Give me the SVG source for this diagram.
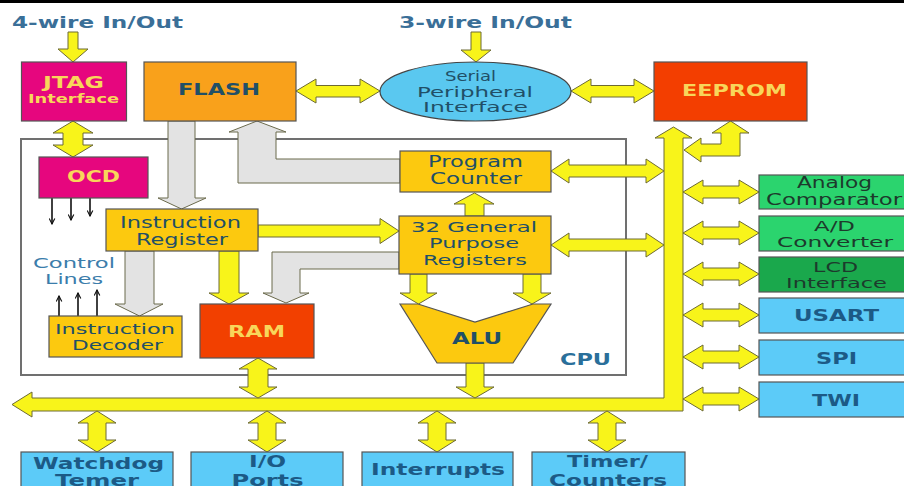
<svg xmlns="http://www.w3.org/2000/svg" width="904" height="486" viewBox="0 0 904 486">
<style>
text{font-family:"DejaVu Sans","Liberation Sans",sans-serif;text-anchor:middle}
.b{font-weight:bold}
.t14{font-size:14px}
.t15{font-size:15px}
.t16{font-size:16px}
.dk{fill:#214f67}
.yl{fill:#f8d65a}
.bl{fill:#1c5a86}
.gt{fill:#1d3a2c}
.box{stroke:#555;stroke-width:1.2}
.ya{fill:#f8f41a;stroke:#6d6a35;stroke-width:1}
.ga{fill:#e3e3e3;stroke:#6b6a4c;stroke-width:1}
.ln{stroke:#111;stroke-width:1.6;fill:none}
.gold{fill:#fcc90f}
.cyan{fill:#5ccbf8}
</style>
<defs>
<marker id="ah" viewBox="0 0 10 10" refX="9" refY="5" markerWidth="7" markerHeight="7" orient="auto-start-reverse" markerUnits="userSpaceOnUse">
<path d="M1,1 L9,5 L1,9" fill="none" stroke="#111" stroke-width="1.6"/>
</marker>
</defs>
<rect x="0" y="0" width="904" height="486" fill="#fff"/>
<rect x="0" y="0" width="904" height="3" fill="#000"/>

<g id="cpu-frame">
<rect x="21" y="139" width="605" height="236" fill="none" stroke="#707070" stroke-width="2"/>
<text x="585.5" y="365" class="b t16" fill="#2a6f9a" textLength="51" lengthAdjust="spacingAndGlyphs">CPU</text>
</g>

<g id="labels">
<text x="97.5" y="28" class="b t16" fill="#3a6f98" textLength="171" lengthAdjust="spacingAndGlyphs">4-wire In/Out</text>
<text x="485.5" y="28" class="b t16" fill="#3a6f98" textLength="173" lengthAdjust="spacingAndGlyphs">3-wire In/Out</text>
</g>

<g id="connectors">
<polygon class="ya" points="68,32 78,32 78,49 88,49 73,62 58,49 68,49"/>
<polygon class="ya" points="471,32 481,32 481,50 491,50 476,62 461,50 471,50"/>
<polygon class="ya" points="73,121 93,133 83,133 83,145 93,145 73,157 53,145 63,145 63,133 53,133"/>
<polygon class="ya" points="296,91 316,79 316,85.5 360,85.5 360,79 380,91 360,103 360,97 316,97 316,103"/>
<polygon class="ya" points="571,91 591,79 591,85.5 634,85.5 634,79 654,91 634,103 634,97 591,97 591,103"/>
<polygon class="ya" points="673.5,127 692,138 683,138 683,411 32,411 32,417 12,404.5 32,392 32,398 664,398 664,138 655,138"/>
<polygon class="ya" points="684,150 701,138 701,144 721,144 721,133 712,133 730.5,121 749,133 740,133 740,156 701,156 701,162"/>
<polygon class="ya" points="551,171 569,159 569,165 646,165 646,159 664,171 646,183 646,177 569,177 569,183"/>
<polygon class="ya" points="551,245 569,233 569,239 646,239 646,233 664,245 646,257 646,251 569,251 569,257"/>
<polygon class="ga" points="168,121 195,121 195,198 206,198 181.5,209 158,198 168,198"/>
<polygon class="ga" points="257,121 286,132 276,132 276,159 400,159 400,183 238,183 238,132 229,132"/>
<polygon class="ya" points="258,225 380,225 380,218.5 399,231 380,243.5 380,237 258,237"/>
<polygon class="ya" points="219,251 239,251 239,293 249,293 229,304 209,293 219,293"/>
<polygon class="ga" points="399,252 272,252 272,293 263,293 286,303 309,293 300,293 300,269 399,269"/>
<polygon class="ga" points="125,251 154,251 154,304 163,304 139.5,316 115,304 125,304"/>
<polygon class="ya" points="465,216 484,216 484,204 494,204 474.5,193 454,204 465,204"/>
<polygon class="ya" points="410,274 427,274 427,293 437,293 418.5,304 400,293 410,293"/>
<polygon class="ya" points="523,274 541,274 541,293 551,293 532,304 513,293 523,293"/>
<polygon class="ya" points="466,363 484,363 484,387 494,387 475,398 456,387 466,387"/>
<polygon class="ya" points="258,358 277,369 268,369 268,387 277,387 258,398 239,387 248,387 248,369 239,369"/>
<polygon class="ya" points="683,192 703,180 703,186 739,186 739,180 759,192 739,204 739,198 703,198 703,204"/>
<polygon class="ya" points="683,233 703,221 703,227 739,227 739,221 759,233 739,245 739,239 703,239 703,245"/>
<polygon class="ya" points="683,274 703,262 703,268 739,268 739,262 759,274 739,286 739,280 703,280 703,286"/>
<polygon class="ya" points="683,315 703,303 703,309 739,309 739,303 759,315 739,327 739,321 703,321 703,327"/>
<polygon class="ya" points="683,357 703,345 703,351 739,351 739,345 759,357 739,369 739,363 703,363 703,369"/>
<polygon class="ya" points="683,399 703,387 703,393 739,393 739,387 759,399 739,411 739,405 703,405 703,411"/>
<polygon class="ya" points="97,411 116,423 106,423 106,440 116,440 97,452 78,440 88,440 88,423 78,423"/>
<polygon class="ya" points="267,411 286,423 276,423 276,440 286,440 267,452 248,440 258,440 258,423 248,423"/>
<polygon class="ya" points="437,411 456,423 446,423 446,440 456,440 437,452 418,440 428,440 428,423 418,423"/>
<polygon class="ya" points="607,411 626,423 616,423 616,440 626,440 607,452 588,440 598,440 598,423 588,423"/>
<line class="ln" x1="52" y1="198" x2="52" y2="224" marker-end="url(#ah)"/>
<line class="ln" x1="71" y1="198" x2="71" y2="220" marker-end="url(#ah)"/>
<line class="ln" x1="90" y1="198" x2="90" y2="216" marker-end="url(#ah)"/>
<line class="ln" x1="59" y1="316" x2="59" y2="296" marker-end="url(#ah)"/>
<line class="ln" x1="78" y1="316" x2="78" y2="293" marker-end="url(#ah)"/>
<line class="ln" x1="97" y1="316" x2="97" y2="290" marker-end="url(#ah)"/>
</g>

<g id="jtag">
<rect class="box" x="21.5" y="62" width="105" height="59" fill="#e6067e"/>
<text x="73.5" y="88" class="b t15 yl" textLength="61" lengthAdjust="spacingAndGlyphs">JTAG</text>
<text x="73.5" y="103" class="b yl" font-size="12" textLength="91" lengthAdjust="spacingAndGlyphs">Interface</text>
</g>
<g id="flash">
<rect class="box" x="144" y="62" width="152" height="59" fill="#f9a11b"/>
<text x="219" y="95" class="b t16 dk" textLength="82" lengthAdjust="spacingAndGlyphs">FLASH</text>
</g>
<g id="spi-serial">
<ellipse cx="475.5" cy="91.5" rx="95.5" ry="29.5" fill="#5ac8f0" stroke="#444" stroke-width="1.2"/>
<text x="470.5" y="81" class="dk" font-size="14" textLength="51" lengthAdjust="spacingAndGlyphs">Serial</text>
<text x="475" y="97" class="dk" font-size="14" textLength="116" lengthAdjust="spacingAndGlyphs">Peripheral</text>
<text x="475.5" y="112" class="dk" font-size="14" textLength="105" lengthAdjust="spacingAndGlyphs">Interface</text>
</g>
<g id="eeprom">
<rect class="box" x="654" y="62" width="153" height="59" fill="#f33e00"/>
<text x="734.5" y="96" class="b t15 yl" textLength="105" lengthAdjust="spacingAndGlyphs">EEPROM</text>
</g>
<g id="ocd">
<rect class="box" x="39" y="157" width="109" height="41" fill="#e6067e"/>
<text x="93.5" y="182" class="b t16 yl" textLength="53" lengthAdjust="spacingAndGlyphs">OCD</text>
</g>
<g id="program-counter">
<rect class="box gold" x="400" y="151" width="151" height="41"/>
<text x="475.5" y="167" class="t15 dk" textLength="95" lengthAdjust="spacingAndGlyphs">Program</text>
<text x="476" y="184" class="t15 dk" textLength="92" lengthAdjust="spacingAndGlyphs">Counter</text>
</g>
<g id="instruction-register">
<rect class="box gold" x="106" y="209" width="152" height="42"/>
<text x="180.5" y="228" class="t15 dk" textLength="121" lengthAdjust="spacingAndGlyphs">Instruction</text>
<text x="182" y="245" class="t15 dk" textLength="92" lengthAdjust="spacingAndGlyphs">Register</text>
</g>
<g id="gpr">
<rect class="box gold" x="399" y="216" width="152" height="58"/>
<text x="474" y="232" class="t14 dk" textLength="126" lengthAdjust="spacingAndGlyphs">32 General</text>
<text x="474" y="248" class="t14 dk" textLength="90" lengthAdjust="spacingAndGlyphs">Purpose</text>
<text x="475" y="265" class="t14 dk" textLength="104" lengthAdjust="spacingAndGlyphs">Registers</text>
</g>
<g id="control-lines">
<text x="74" y="268" class="t14" fill="#3b7dab" textLength="82" lengthAdjust="spacingAndGlyphs">Control</text>
<text x="74" y="284" class="t14" fill="#3b7dab" textLength="58" lengthAdjust="spacingAndGlyphs">Lines</text>
</g>
<g id="instruction-decoder">
<rect class="box gold" x="49" y="316" width="133" height="41"/>
<text x="115" y="334" class="t14 dk" textLength="120" lengthAdjust="spacingAndGlyphs">Instruction</text>
<text x="117.5" y="350" class="t14 dk" textLength="91" lengthAdjust="spacingAndGlyphs">Decoder</text>
</g>
<g id="ram">
<rect class="box" x="200" y="304" width="114" height="54" fill="#f24000"/>
<text x="256.5" y="337" class="b t16 yl" textLength="57" lengthAdjust="spacingAndGlyphs">RAM</text>
</g>
<g id="alu">
<polygon class="box gold" points="400,304 418,304 475,322 533,304 551,304 513,363 437,363"/>
<text x="477" y="344" class="b t16 dk" textLength="50" lengthAdjust="spacingAndGlyphs">ALU</text>
</g>
<g id="analog-comparator">
<rect class="box" x="759" y="175" width="150" height="34" fill="#2bd46e"/>
<text x="834.5" y="188" class="t15 gt" textLength="75" lengthAdjust="spacingAndGlyphs">Analog</text>
<text x="834" y="205" class="t15 gt" textLength="136" lengthAdjust="spacingAndGlyphs">Comparator</text>
</g>
<g id="ad-converter">
<rect class="box" x="759" y="216" width="150" height="35" fill="#2bd46e"/>
<text x="834.5" y="231" class="t14 gt" textLength="41" lengthAdjust="spacingAndGlyphs">A/D</text>
<text x="835" y="247" class="t14 gt" textLength="116" lengthAdjust="spacingAndGlyphs">Converter</text>
</g>
<g id="lcd-interface">
<rect class="box" x="759" y="257" width="150" height="35" fill="#1aa84c"/>
<text x="835.5" y="272" class="t14 gt" textLength="45" lengthAdjust="spacingAndGlyphs">LCD</text>
<text x="836.5" y="288" class="t14 gt" textLength="101" lengthAdjust="spacingAndGlyphs">Interface</text>
</g>
<g id="usart">
<rect class="box cyan" x="759" y="298" width="150" height="35"/>
<text x="836.5" y="321" class="b t15 bl" textLength="85" lengthAdjust="spacingAndGlyphs">USART</text>
</g>
<g id="spi">
<rect class="box cyan" x="759" y="340" width="150" height="35"/>
<text x="836.5" y="364" class="b t15 bl" textLength="41" lengthAdjust="spacingAndGlyphs">SPI</text>
</g>
<g id="twi">
<rect class="box cyan" x="759" y="382" width="150" height="35"/>
<text x="836" y="406" class="b t15 bl" textLength="48" lengthAdjust="spacingAndGlyphs">TWI</text>
</g>
<g id="watchdog">
<rect class="box cyan" x="21" y="452" width="152" height="40"/>
<text x="98.5" y="469" class="b t15 bl" textLength="131" lengthAdjust="spacingAndGlyphs">Watchdog</text>
<text x="97" y="486" class="b t15 bl" textLength="84" lengthAdjust="spacingAndGlyphs">Temer</text>
</g>
<g id="io-ports">
<rect class="box cyan" x="191" y="452" width="152" height="40"/>
<text x="267.5" y="467" class="b t15 bl" textLength="37" lengthAdjust="spacingAndGlyphs">I/O</text>
<text x="267.5" y="486" class="b t15 bl" textLength="72" lengthAdjust="spacingAndGlyphs">Ports</text>
</g>
<g id="interrupts">
<rect class="box cyan" x="362" y="452" width="151" height="40"/>
<text x="438" y="474.5" class="b t15 bl" textLength="134" lengthAdjust="spacingAndGlyphs">Interrupts</text>
</g>
<g id="timer-counters">
<rect class="box cyan" x="532" y="452" width="153" height="40"/>
<text x="607.5" y="467" class="b t15 bl" textLength="81" lengthAdjust="spacingAndGlyphs">Timer/</text>
<text x="608" y="486" class="b t15 bl" textLength="118" lengthAdjust="spacingAndGlyphs">Counters</text>
</g>
</svg>
